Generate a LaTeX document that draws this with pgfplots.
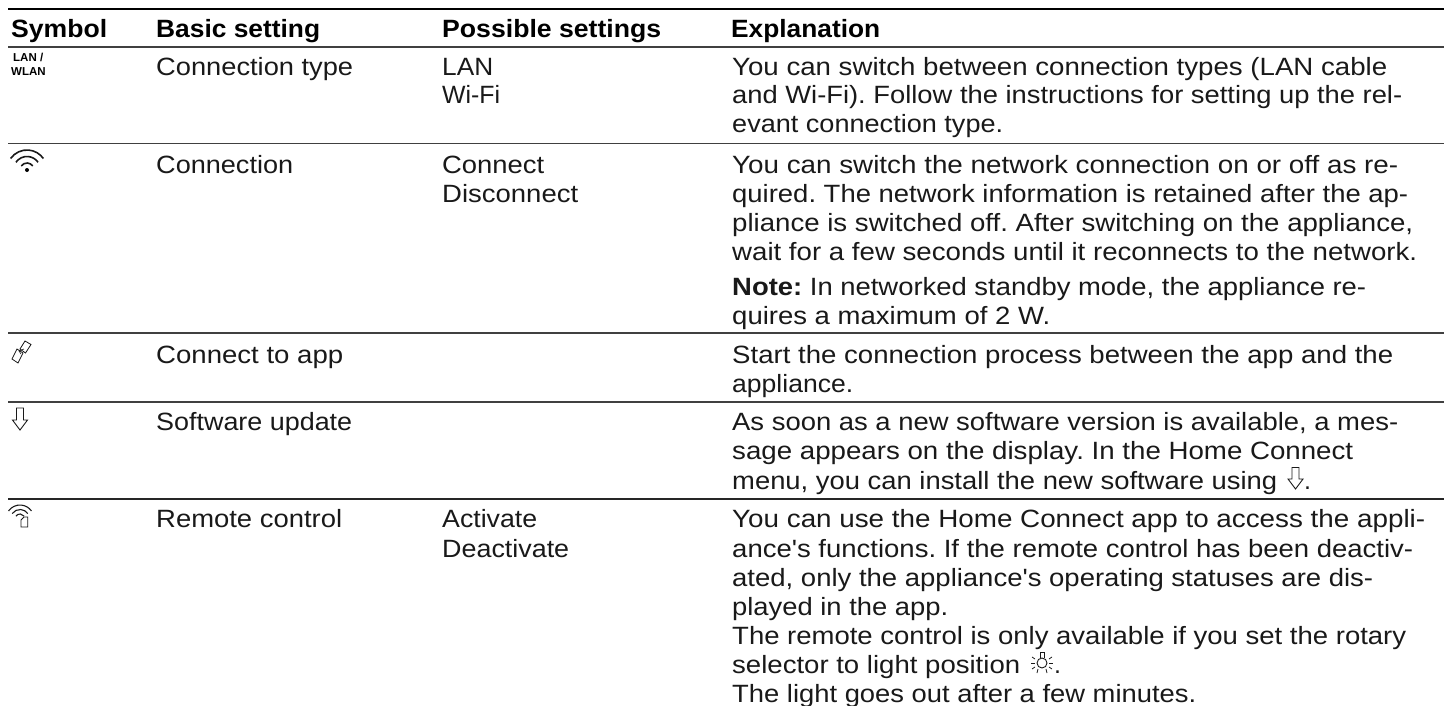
\documentclass[border=0pt]{standalone}
\usepackage{graphicx}
\usepackage{pgfplots}
\pgfplotsset{compat=1.18}
\usepackage{fontspec}
\setmainfont{Liberation Sans}
\newfontfamily\plain{Liberation Sans}
\AtBeginDocument{\frenchspacing}
\newcommand{\T}[4]{\node[anchor=base west,inner sep=0pt,text=black!90] at (axis cs:#1,#2) {\resizebox{\dimexpr #3pt-#1pt\relax}{\height}{\fontsize{25}{28}\selectfont #4}};}
\newcommand{\B}[4]{\node[anchor=base west,inner sep=0pt,text=black] at (axis cs:#1,#2) {\resizebox{\dimexpr #3pt-#1pt\relax}{\height}{\fontsize{25}{28}\selectfont\bfseries #4}};}
\newcommand{\Q}{{\plain'}}
\newcommand{\Fan}[4]{\draw[line width=#4pt,black!90] ([shift={(145:#3pt)}]axis cs:#1,#2) arc[start angle=145,end angle=35,radius=#3pt];}
\begin{document}
\begin{tikzpicture}
\begin{axis}[scale only axis,width=1448pt,height=706pt,xmin=0,xmax=1448,ymin=0,ymax=706,y dir=reverse,hide axis,clip=false]
\path[use as bounding box] (axis cs:0,0) rectangle (axis cs:1448,706);
\addplot[black,line width=1.3pt,forget plot] coordinates {(8,9) (1444,9)};
\addplot[black!75,line width=1.6pt,forget plot] coordinates {(8,47) (1444,47)};
\addplot[black!75,line width=1.2pt,forget plot] coordinates {(8,143.5) (1444,143.5)};
\addplot[black!75,line width=1.2pt,forget plot] coordinates {(8,333) (1444,333)};
\addplot[black!75,line width=1.2pt,forget plot] coordinates {(8,402) (1444,402)};
\addplot[black!85,line width=1.2pt,forget plot] coordinates {(8,499) (1444,499)};
\B{11}{38}{107}{Symbol}\B{156}{38}{320}{Basic setting}\B{442}{38}{661}{Possible settings}\B{731}{38}{880}{Explanation}
\node[anchor=base west,inner sep=0pt] at (axis cs:13,62) {\fontsize{11.5}{12}\selectfont\bfseries LAN /};
\node[anchor=base west,inner sep=0pt] at (axis cs:11,76) {\fontsize{11.5}{12}\selectfont\bfseries WLAN};
\T{156}{76}{353}{Connection type}\T{442}{76}{493}{LAN}\T{442}{104}{500}{Wi-Fi}
\T{732}{76}{1387}{You can switch between connection types (LAN cable}
\T{732}{104}{1402}{and Wi-Fi). Follow the instructions for setting up the rel-}
\T{732}{133}{1003}{evant connection type.}
\T{156}{173}{293}{Connection}\T{442}{173}{544}{Connect}\T{442}{202}{578}{Disconnect}
\T{732}{173}{1398}{You can switch the network connection on or off as re-}
\T{732}{202}{1408}{quired. The network information is retained after the ap-}
\T{732}{231}{1413}{pliance is switched off. After switching on the appliance,}
\T{732}{260}{1417}{wait for a few seconds until it reconnects to the network.}
\T{732}{295}{1366}{\textbf{Note:} In networked standby mode, the appliance re-}
\T{732}{324}{1050}{quires a maximum of 2 W.}
\T{156}{363}{343}{Connect to app}
\T{732}{363}{1393}{Start the connection process between the app and the}
\T{732}{392}{853}{appliance.}
\T{156}{430}{352}{Software update}
\T{732}{430}{1398}{As soon as a new software version is available, a mes-}
\T{732}{459}{1353}{sage appears on the display. In the Home Connect}
\T{732}{489}{1277}{menu, you can install the new software using}
\node[anchor=base west,inner sep=0pt,text=black!90] at (axis cs:1304,489) {\fontsize{25}{28}\selectfont .};
\T{156}{527}{342}{Remote control}\T{442}{527}{537}{Activate}\T{442}{557}{569}{Deactivate}
\T{732}{527}{1425}{You can use the Home Connect app to access the appli-}
\T{732}{557}{1413}{ance\Q s functions. If the remote control has been deactiv-}
\T{732}{586}{1373}{ated, only the appliance\Q s operating statuses are dis-}
\T{732}{615}{948}{played in the app.}
\T{732}{644}{1406}{The remote control is only available if you set the rotary}
\T{732}{673}{1020}{selector to light position}
\node[anchor=base west,inner sep=0pt,text=black!90] at (axis cs:1054,673) {\fontsize{25}{28}\selectfont .};
\T{732}{702}{1196}{The light goes out after a few minutes.}
% wifi
\Fan{27}{170}{20}{1.6}\Fan{27}{170}{13.5}{1.6}\Fan{27}{170}{7}{1.6}
\fill[black] (axis cs:27,170) circle[radius=2pt];
% app
\draw[line width=.8pt,black!90] (axis cs:25,341)--(axis cs:31,344.5)--(axis cs:25.5,353)--(axis cs:20,349)--cycle;
\draw[line width=.8pt,black!90] (axis cs:17,349)--(axis cs:23,353)--(axis cs:18,363)--(axis cs:12,359)--cycle;
\draw[line width=.6pt,black!90] (axis cs:24,349)--(axis cs:19,351)--(axis cs:21,354);
% arrows
\draw[line width=.9pt,black!90] (axis cs:16.5,408)--(axis cs:23.5,408)--(axis cs:23.5,420)--(axis cs:27.5,420)--(axis cs:20,430)--(axis cs:12.5,420)--(axis cs:16.5,420)--cycle;
\draw[line width=.9pt,black!90] (axis cs:1292,467.5)--(axis cs:1299,467.5)--(axis cs:1299,479)--(axis cs:1303,479)--(axis cs:1295.5,489)--(axis cs:1288,479)--(axis cs:1292,479)--cycle;
% remote
\Fan{20}{519}{14}{1.1}\Fan{20}{519}{9.5}{1.1}\Fan{20}{519}{5}{1.1}
\draw[line width=.9pt,black!90] (axis cs:21,520)--(axis cs:24,517)--(axis cs:27.7,517)--(axis cs:27.7,527)--(axis cs:21,527)--cycle;
% light
\draw[line width=.9pt,black!90] (axis cs:1042,663) circle[radius=5pt];
\draw[line width=.9pt,black!90] (axis cs:1040,658)--(axis cs:1040,652.5)--(axis cs:1044,652.5)--(axis cs:1044,658);
\foreach \a/\b/\c/\d in {1031/663/1035/663,1049/663/1053/663,1032/657/1035/659,1052/657/1049/659,1032/669/1035/667,1052/669/1049/667,1038/669/1037/673,1046/669/1047/673}{
\edef\tmp{\noexpand\draw[line width=.8pt,black!90] (axis cs:\a,\b)--(axis cs:\c,\d);}\tmp}
\end{axis}
\end{tikzpicture}
\end{document}
